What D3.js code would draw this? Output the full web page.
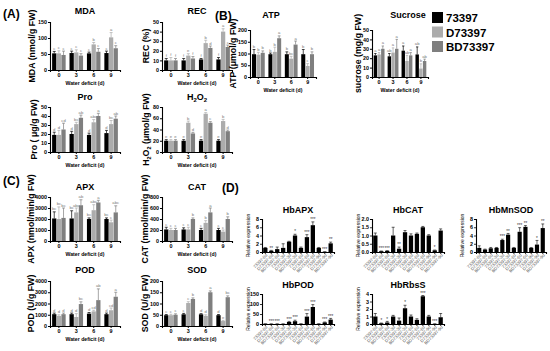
<!DOCTYPE html>
<html>
<head>
<meta charset="utf-8">
<script src="https://cdn.jsdelivr.net/npm/d3@7"></script>
<style>
body { margin: 0; background: #fff; }
text { font-family: "Liberation Sans", Arial, sans-serif; }
</style>
</head>
<body>
<svg id="fig" width="550" height="351"></svg>
<script>
// ---- data ----
var days = ["0", "3", "6", "9"];
var lines = ["73397", "D73397", "BD73397"];

// each array: [73397, D73397, BD73397], values per day 0,3,6,9
var mdaMean = [[52, 53, 52, 53], [52, 55, 80, 102], [47, 45, 57, 68]];
var mdaErr = [[6, 6, 4, 6], [8, 8, 6, 15], [12, 6, 10, 8]];
var mdaLet = [["c", "c", "c", "c"], ["c", "c", "b", "a"], ["c", "c", "c", "c"]];

var recMean = [[10, 10, 11, 11], [10, 15, 28, 40], [10, 12, 23, 24]];
var recErr = [[2, 2, 1, 2], [3, 2, 3, 3], [2, 2, 2, 2]];
var recLet = [["f", "f", "f", "f"], ["f", "e", "b", "a"], ["f", "f", "d", "c"]];

var proMean = [[19, 20, 19, 21], [19, 31, 33, 31], [25, 38, 40, 37]];
var proErr = [[3, 3, 2, 3], [5, 2, 3, 4], [7, 3, 3, 3]];
var proLet = [["d", "d", "d", "d"], ["d", "bc", "abc", "bc"], ["cd", "ab", "a", "ab"]];

var h2o2Mean = [[20, 20, 20, 20], [20, 52, 68, 55], [20, 33, 52, 37]];
var h2o2Err = [[2, 2, 2, 2], [2, 3, 2, 3], [2, 2, 2, 2]];
var h2o2Let = [["e", "e", "e", "e"], ["e", "b", "a", "b"], ["e", "d", "c", "d"]];

var apxMean = [[2050, 2050, 2000, 2000], [2000, 2600, 2800, 1700], [2100, 3250, 3500, 2600]];
var apxErr = [[600, 700, 100, 100], [1100, 400, 500, 200], [900, 500, 200, 600]];
var apxLet = [["bc", "bc", "bc", "bc"], ["bc", "abc", "abc", "c"], ["bc", "ab", "a", "abc"]];

var catMean = [[210, 210, 200, 200], [200, 210, 330, 170], [200, 400, 520, 400]];
var catErr = [[40, 30, 30, 30], [30, 40, 40, 30], [30, 20, 80, 40]];
var catLet = [["c", "c", "c", "c"], ["c", "c", "b", "c"], ["c", "b", "a", "b"]];

var podMean = [[1050, 1050, 1100, 1050], [900, 800, 1300, 1400], [1050, 1950, 2300, 2600]];
var podErr = [[100, 100, 100, 100], [100, 300, 100, 200], [100, 200, 1000, 400]];
var podLet = [["d", "d", "d", "d"], ["d", "d", "cd", "cd"], ["d", "bc", "ab", "a"]];

var sodMean = [[48, 52, 52, 48], [48, 102, 45, 22], [50, 120, 150, 128]];
var sodErr = [[3, 4, 3, 3], [4, 6, 5, 3], [4, 5, 6, 6]];
var sodLet = [["c", "c", "d", "d"], ["c", "c", "d", "e"], ["c", "b", "a", "bc"]];

var atpMean = [[97, 97, 97, 97], [95, 107, 78, 47], [103, 165, 138, 97]];
var atpErr = [[20, 5, 10, 20], [10, 20, 10, 10], [8, 10, 15, 10]];
var atpLet = [["b", "b", "b", "b"], ["b", "b", "bc", "c"], ["b", "a", "a", "b"]];

var sucMean = [[23, 22, 28, 24], [24, 26, 17, 9], [30, 30, 23, 17]];
var sucErr = [[2, 3, 5, 8], [2, 5, 6, 5], [3, 10, 3, 2]];
var sucLet = [["a", "ab", "a", "ab"], ["a", "a", "ab", "b"], ["a", "a", "a", "ab"]];

// (D) qRT-PCR, 12 samples
var samples = ["73397-0d", "D73397-0d", "BD73397-0d", "73397-3d", "D73397-3d", "BD73397-3d",
               "73397-6d", "D73397-6d", "BD73397-6d", "73397-9d", "D73397-9d", "BD73397-9d"];
var apxExp = [1.0, 0.3, 0.7, 1.0, 2.5, 4.0, 1.0, 3.6, 6.5, 1.0, 0.05, 2.1];
var apxExpErr = [0.1, 0.1, 0.5, 1.0, 0.1, 0.3, 0.2, 0.6, 0.8, 0.1, 0.02, 0.3];
var apxStars = ["", "**", "", "", "", "*", "", "***", "***", "", "***", "**"];
var catExp = [1.0, 0.05, 0.07, 1.0, 0.2, 1.2, 1.0, 1.1, 1.5, 1.0, 0.1, 1.3];
var catExpErr = [0.15, 0.01, 0.01, 0.5, 0.1, 0.1, 0.1, 0.05, 0.05, 0.05, 0.02, 0.1];
var catStars = ["", "***", "***", "", "**", "", "", "", "", "", "*", ""];
var mnsodExp = [1.0, 0.6, 0.9, 1.0, 2.9, 4.2, 1.0, 4.9, 6.1, 1.0, 1.8, 5.8];
var mnsodExpErr = [0.5, 0.1, 0.2, 0.1, 0.2, 0.3, 0.1, 1.0, 0.3, 0.1, 1.0, 1.0];
var mnsodStars = ["", "", "", "", "***", "**", "", "***", "**", "", "*", "**"];
var podExp = [1, 0.6, 0.6, 0.6, 10, 14, 1, 37, 85, 1, 8, 22];
var podExpErr = [0.2, 0.3, 0.3, 0.3, 3, 5, 0.2, 15, 12, 0.2, 2, 6];
var podStars = ["", "***", "***", "", "***", "***", "", "***", "***", "", "***", "***"];
var rbsExp = [1.0, 0.1, 0.2, 1.0, 0.45, 2.1, 1.0, 0.55, 3.7, 1.0, 0.02, 0.9];
var rbsExpErr = [0.4, 0.03, 0.15, 0.15, 0.35, 0.4, 0.2, 0.15, 0.1, 0.15, 0.01, 0.5];
var rbsStars = ["", "*", "*", "", "", "*", "", "", "***", "", "***", ""];

// ---- drawing ----
var colors = ["#000000", "#acacac", "#7f7f7f"];
var svg = d3.select("#fig");
svg.append("rect").attr("width", 550).attr("height", 351).attr("fill", "#fff");

function panelLabel(txt, x, y) {
  svg.append("text").attr("x", x).attr("y", y)
    .attr("font-size", 12).attr("font-weight", "bold").text(txt);
}

// grouped bar chart (physiology panels)
function groupChart(o) {
  var g = svg.append("g").attr("transform", `translate(${o.left},${o.top})`);
  var x0 = d3.scaleBand().domain(days).range([0, o.w]).paddingInner(0.18).paddingOuter(0.1);
  var x1 = d3.scaleBand().domain([0, 1, 2]).range([0, x0.bandwidth()]).padding(0.08);
  var y = d3.scaleLinear().domain([0, o.max]).range([o.h, 0]);

  var rows = [];
  o.mean.forEach(function(s, i) {
    s.forEach(function(v, j) {
      rows.push({ day: days[j], s: i, v: v, e: o.err[i][j], l: o.let[i][j] });
    });
  });

  var bx = d => x0(d.day) + x1(d.s);
  g.selectAll("rect.bar").data(rows).enter().append("rect")
    .attr("x", bx).attr("y", d => y(d.v))
    .attr("width", x1.bandwidth()).attr("height", d => o.h - y(d.v))
    .attr("fill", d => colors[d.s]);
  // upper error bars
  g.selectAll("path.err").data(rows).enter().append("path")
    .attr("d", function(d) {
      var cx = bx(d) + x1.bandwidth() / 2, w = x1.bandwidth() * 0.35;
      return `M${cx},${y(d.v)}V${y(d.v + d.e)}M${cx - w},${y(d.v + d.e)}H${cx + w}`;
    })
    .attr("stroke", d => colors[d.s]).attr("stroke-width", 0.7).attr("fill", "none");
  g.selectAll("text.let").data(rows).enter().append("text")
    .attr("x", d => bx(d) + x1.bandwidth() / 2).attr("y", d => y(d.v + d.e) - 1.5)
    .attr("text-anchor", "middle").attr("font-size", 4.2).attr("fill", "#7a7a7a")
    .text(d => d.l);

  var ya = g.append("g").call(d3.axisLeft(y).tickValues(o.ticks).tickSize(2).tickPadding(1).tickFormat(o.fmt || d3.format("d")));
  var xa = g.append("g").attr("transform", `translate(0,${o.h})`)
    .call(d3.axisBottom(x0).tickSize(2).tickPadding(1.5));
  [ya, xa].forEach(function(a) {
    a.select(".domain").attr("stroke-width", 1.1);
    a.selectAll("line").attr("stroke-width", 1);
    a.selectAll("text").attr("font-size", 5.4).attr("font-weight", "bold")
      .attr("font-family", "Liberation Sans, Arial, sans-serif");
  });

  g.append("text").attr("x", o.w / 2 + (o.tdx || 0)).attr("y", o.titleY - o.top)
    .attr("text-anchor", "middle").attr("font-size", 9).attr("font-weight", "bold")
    .html(o.title);
  g.append("text").attr("x", o.w / 2).attr("y", o.h + 15)
    .attr("text-anchor", "middle").attr("font-size", 5.2).attr("font-weight", "bold")
    .text("Water deficit (d)");
  g.append("text").attr("transform", `translate(${-o.lab},${o.h / 2}) rotate(-90)`)
    .attr("text-anchor", "middle").attr("font-size", 8.8).attr("font-weight", "bold")
    .html(o.ylab);
}

// expression bar chart (D panel)
function exprChart(o) {
  var g = svg.append("g").attr("transform", `translate(${o.left},${o.top})`);
  var x = d3.scaleBand().domain(samples).range([0, o.w]).paddingInner(0.28).paddingOuter(0.2);
  var y = d3.scaleLinear().domain([0, o.max]).range([o.h, 0]);
  var rows = samples.map((s, i) => ({ s: s, v: o.vals[i], e: o.errs[i], st: o.stars[i] }));

  g.selectAll("rect").data(rows).enter().append("rect")
    .attr("x", d => x(d.s)).attr("y", d => y(d.v))
    .attr("width", x.bandwidth()).attr("height", d => o.h - y(d.v)).attr("fill", "#000");
  g.selectAll("path.err").data(rows).enter().append("path")
    .attr("d", function(d) {
      var cx = x(d.s) + x.bandwidth() / 2, w = x.bandwidth() * 0.35;
      return `M${cx},${y(d.v)}V${y(d.v + d.e)}M${cx - w},${y(d.v + d.e)}H${cx + w}`;
    })
    .attr("stroke", "#000").attr("stroke-width", 0.6).attr("fill", "none");
  g.selectAll("text.st").data(rows).enter().append("text")
    .attr("x", d => x(d.s) + x.bandwidth() / 2).attr("y", d => y(d.v + d.e) - 0.8)
    .attr("text-anchor", "middle").attr("font-size", 4.5).attr("fill", "#333")
    .text(d => d.st);

  var ya = g.append("g").call(d3.axisLeft(y).tickValues(o.ticks).tickSize(2).tickPadding(1).tickFormat(o.fmt));
  var xa = g.append("g").attr("transform", `translate(0,${o.h})`)
    .call(d3.axisBottom(x).tickSize(2).tickPadding(1));
  [ya, xa].forEach(function(a) {
    a.select(".domain").attr("stroke-width", 1.1);
    a.selectAll("line").attr("stroke-width", 0.8);
    a.selectAll("text").attr("font-size", 5.4).attr("font-weight", "bold")
      .attr("font-family", "Liberation Sans, Arial, sans-serif");
  });
  xa.selectAll("text").attr("font-size", 4.3).attr("font-weight", "normal").attr("fill", "#555")
    .attr("text-anchor", "end").attr("dx", "-0.2em").attr("dy", "0.3em")
    .attr("transform", "rotate(-45)");

  g.append("text").attr("x", o.w / 2).attr("y", -6)
    .attr("text-anchor", "middle").attr("font-size", 9).attr("font-weight", "bold")
    .text(o.title);
  g.append("text").attr("transform", `translate(-12,${o.h / 2}) rotate(-90)`)
    .attr("text-anchor", "middle").attr("font-size", 5).text("Relative expression");
}

// ---- layout ----
panelLabel("(A)", 3, 18);
panelLabel("(B)", 215, 20);
panelLabel("(C)", 3, 185);
panelLabel("(D)", 222, 192);

var sub2 = "<tspan>H</tspan><tspan font-size='6' dy='2'>2</tspan><tspan dy='-2'>O</tspan><tspan font-size='6' dy='2'>2</tspan>";
var sub2lab = "<tspan>H</tspan><tspan font-size='5.5' dy='2'>2</tspan><tspan dy='-2'>O</tspan><tspan font-size='5.5' dy='2'>2</tspan><tspan dy='-2'> (μmol/g FW)</tspan>";

groupChart({ left: 50, top: 22, w: 70, h: 48, titleY: 14, title: "MDA", ylab: "MDA (nmol/g FW)", lab: 15,
  max: 150, ticks: [0, 50, 100, 150], mean: mdaMean, err: mdaErr, let: mdaLet });
groupChart({ left: 162, top: 22, w: 70, h: 48, titleY: 14, title: "REC", ylab: "REC (%)", lab: 13,
  max: 50, ticks: [0, 10, 20, 30, 40, 50], mean: recMean, err: recErr, let: recLet });
groupChart({ left: 50, top: 107, w: 70, h: 45, titleY: 100, title: "Pro", ylab: "Pro ( μg/g FW)", lab: 13,
  max: 50, ticks: [0, 10, 20, 30, 40, 50], mean: proMean, err: proErr, let: proLet });
groupChart({ left: 162, top: 107, w: 70, h: 45, titleY: 100, title: sub2, ylab: sub2lab, lab: 13,
  max: 80, ticks: [0, 20, 40, 60, 80], mean: h2o2Mean, err: h2o2Err, let: h2o2Let });
groupChart({ left: 50, top: 197, w: 70, h: 44, titleY: 190, title: "APX", ylab: "APX (nmol/min/g FW)", lab: 16,
  max: 4000, ticks: [0, 1000, 2000, 3000, 4000], mean: apxMean, err: apxErr, let: apxLet });
groupChart({ left: 162, top: 197, w: 70, h: 44, titleY: 190, title: "CAT", ylab: "CAT (nmol/min/g FW)", lab: 14,
  max: 800, ticks: [0, 200, 400, 600, 800], mean: catMean, err: catErr, let: catLet });
groupChart({ left: 50, top: 281, w: 70, h: 45, titleY: 273, title: "POD", ylab: "POD (U/g FW)", lab: 16,
  max: 4000, ticks: [0, 1000, 2000, 3000, 4000], mean: podMean, err: podErr, let: podLet });
groupChart({ left: 162, top: 281, w: 70, h: 45, titleY: 273, title: "SOD", ylab: "SOD (U/g FW)", lab: 14,
  max: 200, ticks: [0, 50, 100, 150, 200], mean: sodMean, err: sodErr, let: sodLet });
groupChart({ left: 250, top: 30, w: 66, h: 47, titleY: 18, title: "ATP", ylab: "ATP (μmol/g FW)", lab: 14, tdx: -12,
  max: 200, ticks: [0, 50, 100, 150, 200], mean: atpMean, err: atpErr, let: atpLet });
groupChart({ left: 372, top: 30, w: 56, h: 47, titleY: 18, title: "Sucrose", ylab: "sucrose (mg/g FW)", lab: 11, tdx: 8,
  max: 50, ticks: [0, 10, 20, 30, 40, 50], mean: sucMean, err: sucErr, let: sucLet });

// legend
var lg = svg.append("g").attr("transform", "translate(432,12)");
lines.forEach(function(n, i) {
  lg.append("rect").attr("x", 0).attr("y", i * 14.5).attr("width", 11).attr("height", 11).attr("fill", colors[i]);
  lg.append("text").attr("x", 14).attr("y", i * 14.5 + 10).attr("font-size", 11.5)
    .attr("font-weight", "bold").text(n);
});

exprChart({ left: 262, top: 219, w: 72, h: 33, title: "HbAPX", max: 8, ticks: [0, 2, 4, 6, 8],
  fmt: d3.format("d"), vals: apxExp, errs: apxExpErr, stars: apxStars });
exprChart({ left: 372, top: 219, w: 72, h: 33, title: "HbCAT", max: 2, ticks: [0, 0.5, 1, 1.5, 2],
  fmt: d3.format(".1f"), vals: catExp, errs: catExpErr, stars: catStars });
exprChart({ left: 476, top: 219, w: 70, h: 33, title: "HbMnSOD", max: 8, ticks: [0, 2, 4, 6, 8],
  fmt: d3.format("d"), vals: mnsodExp, errs: mnsodExpErr, stars: mnsodStars });
exprChart({ left: 262, top: 294, w: 72, h: 30, title: "HbPOD", max: 150, ticks: [0, 50, 100, 150],
  fmt: d3.format("d"), vals: podExp, errs: podExpErr, stars: podStars });
exprChart({ left: 372, top: 294, w: 72, h: 30, title: "HbRbsS", max: 4, ticks: [0, 1, 2, 3, 4],
  fmt: d3.format("d"), vals: rbsExp, errs: rbsExpErr, stars: rbsStars });
</script>
</body>
</html>
